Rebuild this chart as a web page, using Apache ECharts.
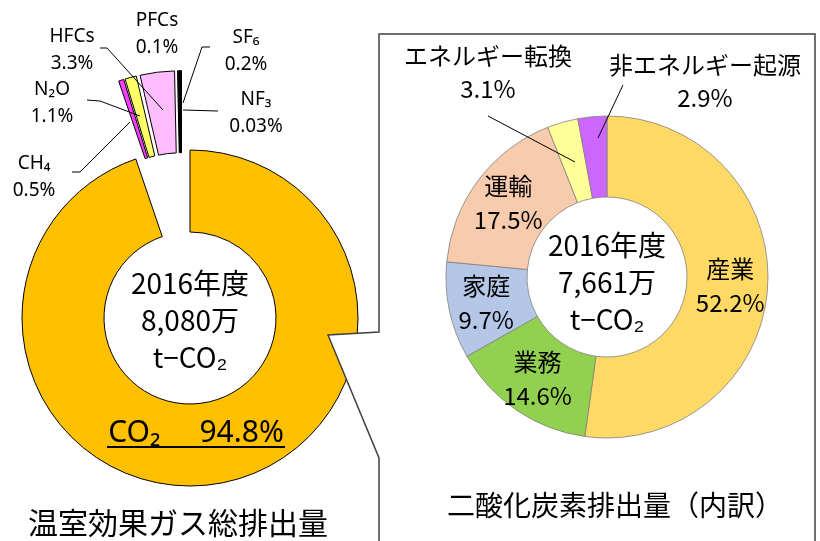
<!DOCTYPE html>
<html>
<head>
<meta charset="utf-8">
<script src="https://cdn.jsdelivr.net/npm/echarts@6/dist/echarts.min.js"></script>
<style>
html, body { margin: 0; padding: 0; background: #fff; }
#chart { width: 820px; height: 541px; }
</style>
</head>
<body>
<div id="chart"></div>
<script>
// greenhouse gases, share of total (%)
const gasNames = ['CO₂', 'CH₄', 'N₂O', 'HFCs', 'PFCs', 'SF₆', 'NF₃'];
const gasShares = [94.8, 0.5, 1.1, 3.3, 0.1, 0.2, 0.03];
const gasColors = ['#FFC000', '#FF3CFF', '#FFFF66', '#FFBDFF', '#0B3B1E', '#000000', '#000000'];

// CO2 by sector (%)
const sectorNames = ['産業', '業務', '家庭', '運輸', 'エネルギー転換', '非エネルギー起源'];
const sectorShares = [52.2, 14.6, 9.7, 17.5, 3.1, 2.9];
const sectorColors = ['#FFD966', '#92D050', '#B4C7E7', '#F8CBAD', '#FFFF99', '#CC66FF'];

const yearText = '2016年度';
const gasTotalText = '8,080万';
const co2TotalText = '7,661万';
const unitText = 't−CO₂';
const gasTitle = '温室効果ガス総排出量';
const sectorTitle = '二酸化炭素排出量（内訳）';

// label anchor positions (layout only)
const gasLabelPos = [[196, 433], [34, 177], [52, 103], [72, 50], [157, 34], [246, 51], [256, 113]];
const sectorLabelPos = [null, null, null, null, [488, 72], [705, 81]];

const latin = "'Noto Sans', 'Noto Sans CJK JP', sans-serif";
const jp = "'Noto Sans CJK JP', sans-serif";
const hidden = { color: 'rgba(0,0,0,0)', borderWidth: 0 };

const chart = echarts.init(document.getElementById('chart'));

function fmtPct(v) {
    return String(v) + '%';
}

function placeLabel(pos) {
    return function (params) {
        const p = pos[params.dataIndex];
        if (!p) {
            return {};
        }
        return { x: p[0], y: p[1], align: 'center', verticalAlign: 'middle' };
    };
}

function leader(points) {
    return {
        type: 'polyline',
        z: 20,
        shape: { points: points },
        style: { stroke: '#000', lineWidth: 1, fill: null }
    };
}

function centerText(x, y, text, size, lh) {
    return {
        type: 'text',
        z: 20,
        x: x,
        y: y,
        style: {
            text: text,
            fontFamily: jp,
            fontSize: size,
            lineHeight: lh,
            fill: '#000',
            align: 'center',
            verticalAlign: 'middle',
            textAlign: 'center',
            textVerticalAlign: 'middle'
        }
    };
}

const options = {
    animation: false,
    backgroundColor: '#fff',
    series: [
        {
            // main ring: CO2 only
            type: 'pie',
            z: 2,
            silent: true,
            center: [190, 318],
            radius: [86, 168],
            labelLine: { show: false },
            label: {
                position: 'inside',
                fontFamily: latin,
                fontSize: 30,
                color: '#000',
                formatter: p => p.name + '     ' + fmtPct(p.value)
            },
            labelLayout: placeLabel(gasLabelPos),
            data: gasNames.map((n, i) => ({
                name: n,
                value: gasShares[i],
                itemStyle: i === 0 ? { color: gasColors[i], borderColor: '#000', borderWidth: 1 } : hidden,
                label: { show: i === 0 }
            }))
        },
        {
            // the small gases, pulled out of the ring
            type: 'pie',
            z: 2,
            silent: true,
            center: [181.5, 266.7],
            radius: [86, 168],
            selectedMode: 'multiple',
            selectedOffset: 28,
            label: { show: false },
            labelLine: { show: false },
            select: { itemStyle: { borderColor: '#000', borderWidth: 1 } },
            data: gasNames.map((n, i) => ({
                name: n,
                value: gasShares[i],
                selected: i > 0,
                itemStyle: i === 0 ? hidden : { color: gasColors[i], borderColor: '#000', borderWidth: 1 }
            }))
        },
        {
            // labels of the small gases
            type: 'pie',
            z: 3,
            silent: true,
            avoidLabelOverlap: false,
            center: [181.5, 266.7],
            radius: [86, 168],
            itemStyle: hidden,
            labelLine: { show: false },
            label: {
                position: 'outside',
                fontFamily: latin,
                fontSize: 19,
                lineHeight: 27,
                color: '#000',
                formatter: p => p.name + '\n' + fmtPct(p.value)
            },
            labelLayout: placeLabel(gasLabelPos),
            data: gasNames.map((n, i) => ({
                name: n,
                value: gasShares[i],
                label: { show: i > 0 }
            }))
        },
        {
            type: 'pie',
            z: 10,
            silent: true,
            avoidLabelOverlap: false,
            center: [607, 277],
            radius: [80, 161],
            itemStyle: { borderColor: '#808080', borderWidth: 0.8 },
            labelLine: { show: false },
            label: {
                fontFamily: jp,
                fontSize: 24,
                lineHeight: 34,
                color: '#000',
                formatter: p => p.name + '\n' + p.value.toFixed(1) + '%'
            },
            labelLayout: placeLabel(sectorLabelPos),
            data: sectorNames.map((n, i) => ({
                name: n,
                value: sectorShares[i],
                itemStyle: { color: sectorColors[i] },
                label: { position: i < 4 ? 'inside' : 'outside', lineHeight: i < 4 ? 34 : 33 }
            }))
        }
    ],
    graphic: [
        {
            // call-out box joining the two rings
            type: 'polygon',
            z: 5,
            shape: {
                points: [[379, 34], [815, 34], [815, 560], [379, 560], [379, 458], [328, 335], [379, 332]]
            },
            style: { fill: '#fff', stroke: '#404040', lineWidth: 1.5 }
        },
        leader([[100, 48], [107, 48], [163, 110]]),
        leader([[87, 100], [100, 101], [140, 116]]),
        leader([[72, 172], [80, 172], [130, 122]]),
        leader([[210, 47], [202, 47], [183, 103]]),
        leader([[183, 110], [218, 111]]),
        leader([[488, 116], [575, 162]]),
        leader([[623, 85], [598, 138]]),
        {
            type: 'line',
            z: 20,
            shape: { x1: 107, y1: 447, x2: 285, y2: 447 },
            style: { stroke: '#000', lineWidth: 2 }
        },
        centerText(190, 320, [yearText, gasTotalText, unitText].join('\n'), 28, 37),
        centerText(607, 282, [yearText, co2TotalText, unitText].join('\n'), 28, 37),
        centerText(178, 523, gasTitle, 30, 36),
        centerText(615, 505, sectorTitle, 28, 34)
    ]
};

chart.setOption(options);
</script>
</body>
</html>
